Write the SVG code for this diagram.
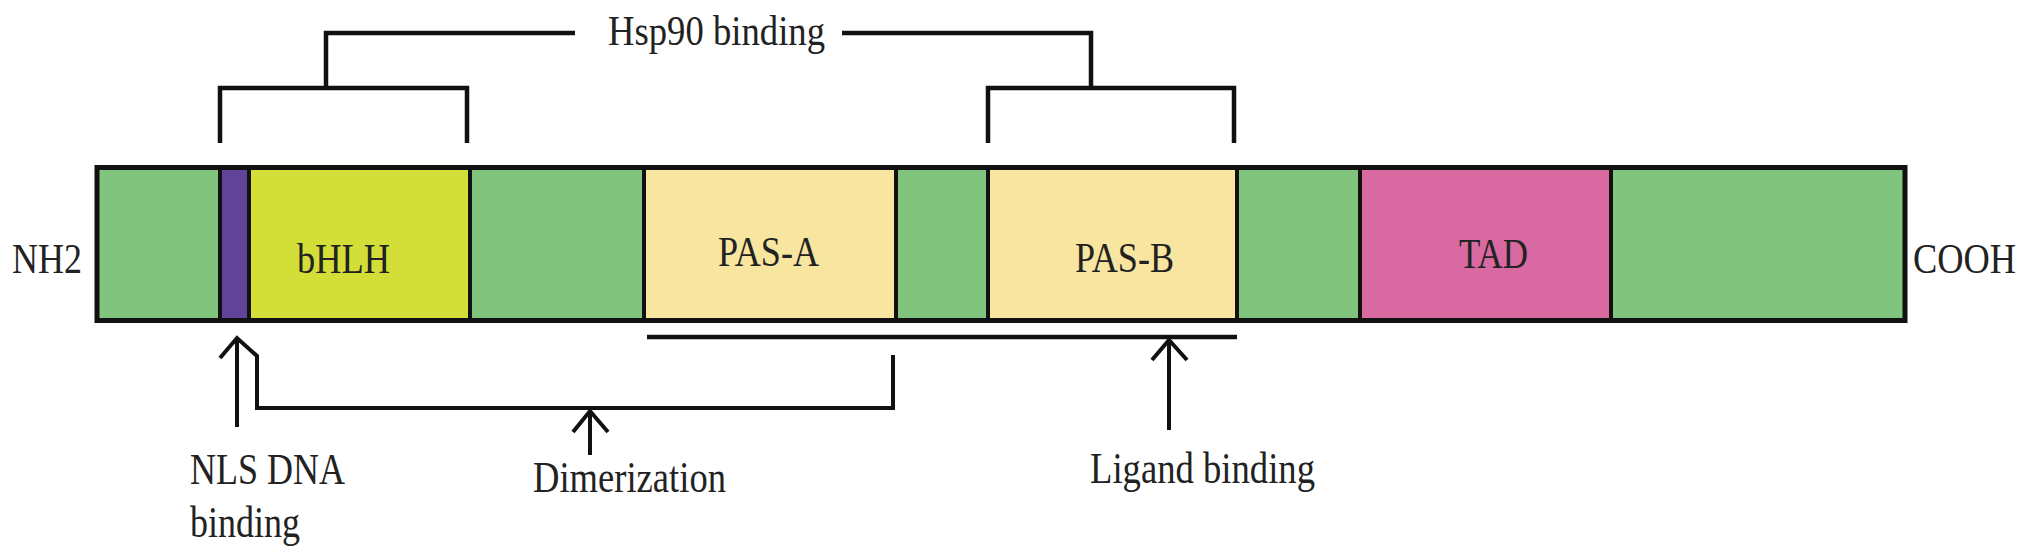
<svg xmlns="http://www.w3.org/2000/svg" width="2031" height="559" viewBox="0 0 2031 559">
<style>
.seg{stroke:#111;stroke-width:4}
.g{fill:#80C47E}
.p{fill:#5F4498}
.y{fill:#D3DE38}
.pas{fill:#F7E5A0}
.t{fill:#D869A1}
.lbl{font-family:"Liberation Serif","Times New Roman",serif;font-size:43px;fill:#222}
.big{font-size:45px}
.ln{fill:none;stroke:#111;stroke-width:4.5;stroke-linejoin:miter;stroke-linecap:butt}
.ar{fill:none;stroke:#111;stroke-width:4;stroke-linejoin:miter}
</style>
<rect width="2031" height="559" fill="#fff"/>
<g id="linker1"><rect class="seg g" x="97" y="167.5" width="123" height="153"/></g>
<g id="NLS"><rect class="seg p" x="220" y="167.5" width="29" height="153"/></g>
<g id="bHLH"><rect class="seg y" x="249" y="167.5" width="221" height="153"/><text class="lbl" x="297" y="273" textLength="93" lengthAdjust="spacingAndGlyphs">bHLH</text></g>
<g id="linker2"><rect class="seg g" x="470" y="167.5" width="174" height="153"/></g>
<g id="PAS-A"><rect class="seg pas" x="644" y="167.5" width="252" height="153"/><text class="lbl" x="718" y="266" textLength="101" lengthAdjust="spacingAndGlyphs">PAS-A</text></g>
<g id="linker3"><rect class="seg g" x="896" y="167.5" width="92" height="153"/></g>
<g id="PAS-B"><rect class="seg pas" x="988" y="167.5" width="249" height="153"/><text class="lbl" x="1075" y="272" textLength="99" lengthAdjust="spacingAndGlyphs">PAS-B</text></g>
<g id="linker4"><rect class="seg g" x="1237" y="167.5" width="123" height="153"/></g>
<g id="TAD"><rect class="seg t" x="1360" y="167.5" width="251" height="153"/><text class="lbl" x="1459" y="268" textLength="69" lengthAdjust="spacingAndGlyphs">TAD</text></g>
<g id="linker5"><rect class="seg g" x="1611" y="167.5" width="294" height="153"/></g>
<rect x="97" y="167.5" width="1808" height="153" fill="none" stroke="#111" stroke-width="5"/>
<g id="NH2"><text class="lbl" x="12" y="273" textLength="70" lengthAdjust="spacingAndGlyphs">NH2</text></g>
<g id="COOH"><text class="lbl" x="1913" y="273" textLength="103" lengthAdjust="spacingAndGlyphs">COOH</text></g>
<g id="hsp90-label"><text class="lbl" x="608" y="45" textLength="217" lengthAdjust="spacingAndGlyphs">Hsp90 binding</text></g>
<g id="nls-label"><text class="lbl big" x="190" y="484" textLength="155" lengthAdjust="spacingAndGlyphs">NLS DNA</text><text class="lbl big" x="190" y="537" textLength="110" lengthAdjust="spacingAndGlyphs">binding</text></g>
<g id="dimerization-label"><text class="lbl big" x="533" y="492" textLength="193" lengthAdjust="spacingAndGlyphs">Dimerization</text></g>
<g id="ligand-label"><text class="lbl big" x="1090" y="483" textLength="225" lengthAdjust="spacingAndGlyphs">Ligand binding</text></g>
<g id="connectors">
<path class="ln" d="M220,143 V88 H467 V143 M326,88 V33 H575"/>
<path class="ln" d="M988,143 V88 H1234 V143 M1091,88 V33 H842"/>
<path class="ln" d="M647,337 H1237"/>
<path class="ar" d="M237,427 V338 M220,358 L237,338 L257,356 V408 H893 V355"/>
<path class="ar" d="M590,455 V411 M573,432 L590,411 L608,432"/>
<path class="ar" d="M1169,430 V340 M1152,360 L1169,340 L1187,360"/>
</g>
</svg>
